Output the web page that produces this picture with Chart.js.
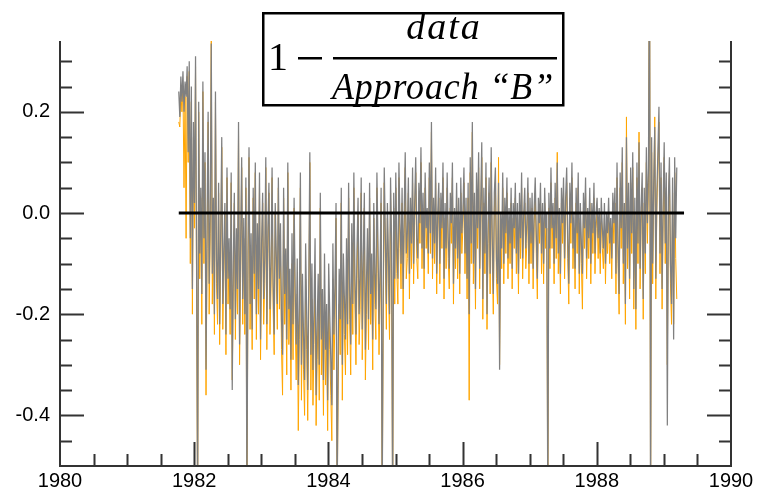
<!DOCTYPE html>
<html>
<head>
<meta charset="utf-8">
<script src="https://cdn.jsdelivr.net/npm/chart.js@4"></script>
<style>
  body { margin: 0; background: #fff; }
</style>
</head>
<body>
<canvas id="ratioChart" width="757" height="490"></canvas>
<script>
// samples every 1/64 year, starting late 1981
const startYear = 1981.77;
const stepYears = 1 / 64;

// 1 - data / Approach "B"  (gray), one row = a quarter year
const grayValues = [
    0.24, 0.19, 0.27, 0.22, 0.28, 0.2, 0.26, 0.23, 0.29, 0.12, 0.3, -0.05, 0.25, -0.15, 0.18, 0.02,
    0.31, -0.1, -0.6, 0.22, -0.08, 0.05, -0.16, 0.26, -0.05, 0.12, -0.31, -0.02, 0.2, -0.14, 0.0, 0.335,
    -0.12, 0.03, -0.2, 0.24, -0.09, -0.17, 0.06, -0.22, -0.04, 0.15, -0.18, -0.07, 0.02, -0.24, 0.09, -0.13,
    -0.05, -0.19, 0.08, -0.35, -0.1, 0.04, -0.21, -0.03, -0.15, 0.18, -0.26, -0.06, 0.11, -0.17, -0.01, -0.2,
    0.07, -0.6, -0.08, 0.13, -0.18, -0.04, -0.23, 0.05, -0.12, 0.1, -0.2, -0.02, -0.15, 0.08, -0.25, -0.06,
    0.04, -0.17, -0.09, 0.11, -0.22, -0.03, 0.06, -0.19, -0.1, 0.09, -0.14, -0.24, 0.02, -0.08, -0.18, 0.07,
    -0.13, -0.02, -0.21, -0.28, 0.05, -0.16, -0.07, -0.25, 0.1, -0.19, -0.11, -0.29, -0.04, -0.22, 0.03, -0.15,
    -0.26, -0.09, -0.34, -0.18, 0.08, -0.3, -0.12, -0.24, -0.33, -0.06, -0.2, -0.35, -0.14, 0.12, -0.28, -0.1,
    -0.31, -0.19, -0.05, -0.36, -0.22, -0.12, -0.3, 0.04, -0.25, -0.15, -0.33, -0.08, -0.27, -0.18, -0.37, -0.1,
    -0.2, -0.29, -0.38, -0.06, -0.24, -0.14, 0.02, -0.6, -0.28, -0.11, -0.21, 0.05, -0.3, -0.08, -0.17, -0.25,
    -0.05, -0.22, 0.06, -0.15, -0.26, -0.02, -0.18, 0.08, -0.12, -0.24, -0.07, 0.03, -0.2, -0.13, 0.07, -0.23,
    -0.09, 0.04, -0.27, -0.14, -0.03, -0.21, 0.06, -0.16, -0.08, -0.25, 0.02, -0.12, -0.19, 0.08, -0.06, -0.22,
    -0.11, 0.05, -0.6, -0.15, 0.09, -0.04, -0.18, 0.02, -0.09, -0.2, 0.07, -0.06, -0.6, 0.04, -0.13, 0.08,
    -0.07, -0.13, 0.1, -0.02, -0.1, 0.05, -0.15, 0.0, 0.12, -0.08, -0.04, 0.07, -0.12, 0.03, -0.06, 0.09,
    -0.1, 0.02, 0.11, -0.05, -0.09, 0.06, -0.02, 0.13, -0.07, 0.04, -0.11, 0.08, -0.03, 0.01, -0.08, 0.1,
    -0.04, 0.18, -0.09, 0.03, -0.06, 0.09, -0.12, 0.0, 0.06, -0.1, 0.04, -0.03, 0.1, -0.13, 0.02, -0.07,
    0.08, -0.05, -0.11, 0.04, -0.02, 0.1, -0.14, 0.01, -0.07, 0.06, -0.09, 0.03, -0.12, 0.07, -0.04, 0.0,
    0.09, -0.08, 0.03, -0.13, 0.06, -0.2, 0.11, -0.06, 0.18, -0.1, 0.04, -0.15, 0.08, -0.03, 0.12, -0.11,
    0.02, 0.14, -0.17, 0.05, -0.08, 0.1, -0.2, -0.02, 0.07, -0.12, 0.13, -0.05, -0.16, 0.04, 0.09, -0.09,
    -0.14, 0.06, -0.31, 0.0, -0.07, 0.08, -0.1, 0.03, -0.04, 0.07, -0.09, 0.01, -0.06, 0.05, -0.11, 0.02,
    -0.03, 0.06, -0.08, 0.02, -0.12, 0.04, -0.05, 0.08, -0.09, 0.0, 0.05, -0.07, -0.02, 0.07, -0.1, 0.03,
    -0.06, 0.04, -0.11, 0.01, 0.07, -0.04, -0.13, 0.03, -0.02, 0.06, -0.08, 0.02, -0.1, 0.05, -0.03, 0.0,
    -0.6, 0.04, -0.07, 0.09, -0.03, 0.02, -0.1, 0.06, -0.05, 0.1, -0.08, 0.01, -0.12, 0.05, -0.02, 0.07,
    -0.09, 0.03, 0.09, -0.05, -0.14, 0.06, -0.02, 0.1, -0.07, 0.0, -0.11, 0.05, -0.04, 0.08, -0.12, 0.02,
    -0.06, -0.12, 0.04, -0.03, 0.07, -0.09, 0.01, -0.05, 0.05, -0.1, 0.02, -0.04, 0.06, -0.08, 0.0, 0.03,
    -0.05, 0.01, -0.08, 0.03, -0.03, -0.07, 0.02, -0.1, 0.0, -0.04, 0.03, -0.06, -0.01, -0.09, 0.04, -0.02,
    0.05, -0.12, 0.1, -0.06, -0.16, 0.08, -0.03, 0.13, -0.1, 0.02, -0.18, 0.15, -0.07, 0.06, -0.13, 0.09,
    -0.04, 0.12, -0.15, 0.03, -0.19, 0.1, -0.06, 0.14, -0.11, 0.01, 0.08, -0.17, 0.05, -0.08, 0.13, -0.02,
    0.09, 0.6, -0.6, 0.15, -0.1, 0.06, 0.17, -0.13, 0.04, 0.12, 0.21, -0.08, 0.1, -0.15, 0.02, 0.14,
    -0.06, 0.08, -0.42, 0.03, 0.11, -0.1, -0.18, 0.07, -0.25, 0.11, -0.05, 0.09
];

// second estimate (orange), mostly hidden under the gray one
const orangeValues = [
    0.18, 0.17, 0.24, 0.2, 0.25, 0.05, 0.23, -0.05, 0.27, 0.1, 0.28, -0.1, 0.22, -0.2, 0.15, -0.03,
    0.29, -0.16, -0.6, 0.2, -0.13, 0.03, -0.22, 0.24, -0.1, 0.1, -0.36, -0.07, 0.18, -0.2, -0.04, 0.34,
    -0.18, 0.01, -0.24, 0.22, -0.14, -0.22, 0.04, -0.26, -0.09, 0.13, -0.23, -0.12, 0.0, -0.28, 0.07, -0.18,
    -0.1, -0.24, 0.06, -0.33, -0.15, 0.02, -0.25, -0.08, -0.2, 0.16, -0.3, -0.11, 0.09, -0.22, -0.05, -0.24,
    0.05, -0.6, -0.13, 0.11, -0.23, -0.09, -0.27, 0.03, -0.17, 0.08, -0.25, -0.07, -0.2, 0.06, -0.29, -0.11,
    0.02, -0.22, -0.14, 0.09, -0.27, -0.08, 0.04, -0.24, -0.15, 0.07, -0.19, -0.28, 0.0, -0.13, -0.23, 0.05,
    -0.19, -0.07, -0.27, -0.36, 0.03, -0.22, -0.13, -0.32, 0.08, -0.26, -0.17, -0.35, -0.1, -0.29, 0.01, -0.21,
    -0.33, -0.16, -0.43, -0.25, 0.05, -0.37, -0.19, -0.31, -0.4, -0.13, -0.27, -0.41, -0.21, 0.1, -0.35, -0.17,
    -0.38, -0.26, -0.12, -0.42, -0.29, -0.19, -0.37, 0.01, -0.32, -0.22, -0.4, -0.15, -0.34, -0.25, -0.43, -0.17,
    -0.27, -0.36, -0.45, -0.13, -0.31, -0.21, -0.01, -0.6, -0.35, -0.18, -0.28, 0.02, -0.37, -0.15, -0.24, -0.32,
    -0.11, -0.28, 0.03, -0.21, -0.32, -0.08, -0.24, 0.05, -0.18, -0.3, -0.13, 0.0, -0.26, -0.19, 0.04, -0.29,
    -0.15, 0.01, -0.33, -0.2, -0.09, -0.27, 0.03, -0.22, -0.14, -0.31, -0.01, -0.18, -0.25, 0.05, -0.12, -0.28,
    -0.17, 0.02, -0.6, -0.21, 0.06, -0.09, -0.23, -0.01, -0.14, -0.25, 0.04, -0.11, -0.6, 0.01, -0.18, 0.05,
    -0.12, -0.18, 0.07, -0.07, -0.15, 0.02, -0.2, -0.04, 0.09, -0.13, -0.09, 0.04, -0.17, 0.0, -0.11, 0.06,
    -0.14, -0.01, 0.08, -0.09, -0.13, 0.03, -0.06, 0.1, -0.11, 0.01, -0.15, 0.05, -0.07, -0.02, -0.12, 0.07,
    -0.08, 0.16, -0.13, 0.0, -0.1, 0.06, -0.16, -0.03, 0.03, -0.14, 0.01, -0.07, 0.07, -0.17, -0.01, -0.11,
    0.05, -0.09, -0.15, 0.01, -0.06, 0.07, -0.18, -0.02, -0.11, 0.03, -0.13, 0.0, -0.16, 0.04, -0.08, -0.03,
    0.06, -0.12, 0.0, -0.17, 0.03, -0.37, 0.08, -0.1, 0.16, -0.14, 0.01, -0.19, 0.05, -0.07, 0.09, -0.15,
    -0.01, 0.11, -0.21, 0.02, -0.12, 0.07, -0.23, -0.06, 0.04, -0.16, 0.1, -0.09, -0.2, 0.01, 0.06, -0.13,
    -0.18, 0.11, -0.3, -0.03, -0.11, 0.05, -0.14, 0.0, -0.08, 0.04, -0.13, -0.02, -0.1, 0.02, -0.15, -0.01,
    -0.07, 0.03, -0.12, -0.01, -0.16, 0.01, -0.09, 0.05, -0.13, -0.03, 0.02, -0.11, -0.06, 0.04, -0.14, 0.0,
    -0.1, 0.01, -0.15, -0.02, 0.04, -0.08, -0.17, 0.0, -0.06, 0.03, -0.12, -0.01, -0.14, 0.02, -0.07, -0.03,
    -0.6, 0.01, -0.11, 0.06, -0.07, -0.01, -0.14, 0.03, -0.09, 0.12, -0.12, -0.02, -0.16, 0.02, -0.06, 0.04,
    -0.13, 0.0, 0.06, -0.09, -0.18, 0.03, -0.06, 0.07, -0.11, -0.03, -0.15, 0.02, -0.08, 0.05, -0.16, -0.01,
    -0.1, -0.19, 0.01, -0.07, 0.04, -0.13, -0.02, -0.09, 0.02, -0.14, -0.01, -0.08, 0.03, -0.12, -0.03, 0.0,
    -0.09, -0.02, -0.12, 0.0, -0.07, -0.11, -0.01, -0.14, -0.03, -0.08, 0.0, -0.1, -0.04, -0.13, 0.01, -0.06,
    0.02, -0.16, 0.07, -0.1, -0.2, 0.05, -0.07, 0.1, -0.14, -0.01, -0.22, 0.19, -0.11, 0.03, -0.17, 0.06,
    -0.08, 0.09, -0.19, 0.0, -0.23, 0.07, -0.1, 0.16, -0.15, -0.02, 0.05, -0.21, 0.02, -0.12, 0.1, -0.06,
    0.06, 0.6, -0.6, 0.12, -0.14, 0.03, 0.19, -0.17, 0.01, 0.09, 0.18, -0.12, 0.07, -0.19, -0.01, 0.11,
    -0.1, 0.05, -0.3, 0.0, 0.08, -0.14, -0.22, 0.04, -0.22, 0.08, -0.09, -0.17
];

const zeroLineYears = [1981.77, 1989.3];
const zeroLineValues = [0, 0];

const xLabelYears = [1980, 1982, 1984, 1986, 1988, 1990];
const yLabelValues = [-0.4, -0.2, 0.0, 0.2];

const toPoints = values => values.map((v, i) => ({ x: startYear + i * stepYears, y: v }));

// frame + inward ticks (long at labelled values, short in between)
const axisFrame = {
    id: 'axisFrame',
    afterDraw(chart) {
        const { ctx, chartArea: a, scales: { x, y } } = chart;
        ctx.save();
        ctx.strokeStyle = '#333';
        ctx.lineWidth = 2;
        ctx.beginPath();
        ctx.moveTo(a.left, a.top);
        ctx.lineTo(a.left, a.bottom);
        ctx.lineTo(a.right, a.bottom);
        ctx.lineTo(a.right, a.top);
        ctx.stroke();

        ctx.beginPath();
        for (let k = -9; k <= 6; k++) {
            const v = k * 0.05;
            const py = Math.round(y.getPixelForValue(v)) + 0.5;
            const len = yLabelValues.some(m => Math.abs(m - v) < 1e-6) ? 24 : 12;
            ctx.moveTo(a.left, py); ctx.lineTo(a.left + len, py);
            ctx.moveTo(a.right, py); ctx.lineTo(a.right - len, py);
        }
        for (let yr = 1980.5; yr < 1990; yr += 0.5) {
            const px = Math.round(x.getPixelForValue(yr)) + 0.5;
            const len = xLabelYears.includes(yr) ? 24 : 12;
            ctx.moveTo(px, a.bottom); ctx.lineTo(px, a.bottom - len);
        }
        ctx.stroke();
        ctx.restore();
    }
};

// boxed formula at the top
const formulaBox = {
    id: 'formulaBox',
    afterDraw(chart) {
        const ctx = chart.ctx;
        ctx.save();
        ctx.fillStyle = '#fff';
        ctx.fillRect(263, 13, 300, 92);
        ctx.strokeStyle = '#000';
        ctx.lineWidth = 2.5;
        ctx.strokeRect(263.25, 13.25, 300, 92);

        ctx.fillStyle = '#000';
        ctx.font = "40px 'Liberation Serif', serif";
        ctx.textAlign = 'center';
        ctx.textBaseline = 'alphabetic';
        ctx.fillText('1', 278, 70);
        ctx.fillRect(298, 57, 24, 2.5);
        ctx.fillRect(333, 57, 224, 2.5);

        ctx.font = "italic 38px 'Liberation Serif', serif";
        ctx.letterSpacing = '2px';
        ctx.fillText('data', 444, 39);
        ctx.letterSpacing = '1px';
        ctx.fillText('Approach \u201CB\u201D', 443, 99, 222);
        ctx.restore();
    }
};

const tickFont = { family: "'Liberation Sans', Arial, sans-serif", size: 20 };

new Chart(document.getElementById('ratioChart'), {
    type: 'line',
    data: {
        datasets: [
            {
                data: zeroLineYears.map((yr, i) => ({ x: yr, y: zeroLineValues[i] })),
                borderColor: '#000',
                borderWidth: 3,
                order: 0
            },
            {
                data: toPoints(grayValues),
                borderColor: 'rgb(128,128,128)',
                borderWidth: 1.25,
                order: 1
            },
            {
                data: toPoints(orangeValues),
                borderColor: 'rgb(255,165,0)',
                borderWidth: 1,
                order: 2
            }
        ]
    },
    options: {
        responsive: false,
        animation: false,
        events: [],
        elements: { point: { radius: 0 }, line: { tension: 0 } },
        layout: { padding: { top: 41, right: 26, left: 0, bottom: 0 } },
        plugins: { legend: { display: false }, tooltip: { enabled: false } },
        scales: {
            x: {
                type: 'linear',
                min: 1980,
                max: 1990,
                grid: { display: false, drawTicks: false },
                border: { display: false },
                afterBuildTicks: scale => { scale.ticks = xLabelYears.map(v => ({ value: v })); },
                afterFit: scale => { scale.height = 24; },
                ticks: {
                    font: tickFont,
                    color: '#000',
                    padding: 3,
                    maxRotation: 0,
                    callback: v => String(v)
                }
            },
            y: {
                min: -0.5,
                max: 0.34,
                grid: { display: false, drawTicks: false },
                border: { display: false },
                afterBuildTicks: scale => { scale.ticks = yLabelValues.map(v => ({ value: v })); },
                afterFit: scale => { scale.width = 60; },
                ticks: {
                    font: tickFont,
                    color: '#000',
                    padding: 10,
                    callback: v => v.toFixed(1)
                }
            }
        }
    },
    plugins: [axisFrame, formulaBox]
});
</script>
</body>
</html>
